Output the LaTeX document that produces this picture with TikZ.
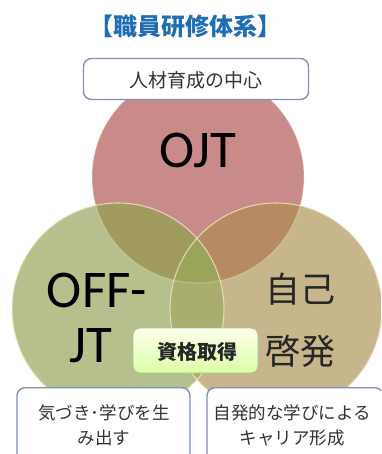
\documentclass[tikz,border=0pt]{standalone}
\usepackage{fontspec}
\setmainfont{Carlito}
\newfontfamily\jp{Noto Sans CJK JP}
\definecolor{cR}{HTML}{C98B89}
\definecolor{cG}{HTML}{B5C08D}
\definecolor{cT}{HTML}{C7B58B}
\definecolor{cRG}{HTML}{A29B5F}
\definecolor{cRT}{HTML}{B68B62}
\definecolor{cGT}{HTML}{A9AE6E}
\definecolor{cRGT}{HTML}{9BA45B}
\definecolor{titleblue}{HTML}{1F6DB5}
\definecolor{boxline}{HTML}{7F91B4}
\definecolor{txt}{HTML}{333333}
\definecolor{edge}{HTML}{F4E8CC}
\tikzset{
  infobox/.style={draw=boxline, line width=1.4pt, rounded corners=8pt, fill=white, inner sep=0pt},
  bigtxt/.style={font=\fontsize{53}{53}\selectfont, text=black, inner sep=0pt},
  bigjp/.style={font=\jp\fontsize{35}{35}\selectfont, text=black!85, inner sep=0pt},
  smalljp/.style={font=\jp\fontsize{17.5}{25}\selectfont, text=txt, align=center, inner sep=0pt},
  rim/.style={draw=edge, line width=1.1pt, draw opacity=0.75}
}
\begin{document}
\begin{tikzpicture}[x=1pt,y=-1pt]
\useasboundingbox (0,0) rectangle (381,454);
\clip (0,0) rectangle (381,454);
\coordinate (cr) at (198,177);
\coordinate (cg) at (118,309);
\coordinate (ct) at (276,309);
% base circles
\fill[cR] (cr) circle[radius=106pt];
\fill[cG] (cg) circle[radius=106pt];
\fill[cT] (ct) circle[radius=106pt];
% pairwise overlaps
\begin{scope}
  \clip (cr) circle[radius=106pt];
  \fill[cRG] (cg) circle[radius=106pt];
  \fill[cRT] (ct) circle[radius=106pt];
\end{scope}
\begin{scope}
  \clip (cg) circle[radius=106pt];
  \fill[cGT] (ct) circle[radius=106pt];
  \clip (ct) circle[radius=106pt];
  \fill[cRGT] (cr) circle[radius=106pt];
\end{scope}
% rims
\draw[rim, draw opacity=0.35] (cr) circle[radius=106pt];
\draw[rim] (cg) circle[radius=106pt];
\draw[rim] (ct) circle[radius=106pt];
% title
\node[font=\jp\bfseries\fontsize{24}{24}\selectfont, text=titleblue, inner sep=0pt] (title) at (185,26) {【職員研修体系】};
% top box
\node[infobox, minimum width=225pt, minimum height=41pt] (topbox) at (196,79) {};
\node[font=\jp\fontsize{19}{19}\selectfont, text=txt, inner sep=0pt] (toptxt) at (196,80) {人材育成の中心};
% big labels
\node[bigtxt] (ojt) at (198,150) {OJT};
\node[bigtxt] (off) at (97,290) {OFF-};
\node[bigtxt] (jt) at (91,345.5) {JT};
\node[bigjp] (jiko) at (300,289) {自己};
\node[bigjp] (keihatsu) at (300,351) {啓発};
% qualification box
\node[draw=black!20!green!25!gray!60, line width=0.8pt, rounded corners=7pt,
      top color=green!8!yellow!8!white, bottom color=green!40!yellow!35!white,
      minimum width=125pt, minimum height=45pt, inner sep=0pt] (shikaku) at (195.5,350.5) {};
\node[font=\jp\bfseries\fontsize{20}{20}\selectfont, text=black!85, inner sep=0pt] (shikakutxt) at (197,352) {資格取得};
% bottom boxes
\node[infobox, minimum width=173pt, minimum height=90pt, anchor=north] (lbox) at (103.5,387) {};
\node[infobox, minimum width=176pt, minimum height=90pt, anchor=north] (rbox) at (295,387) {};
\node[smalljp] (ltxt) at (104,425) {気づき･学びを生\\み出す};
\node[smalljp] (rtxt) at (292,425) {自発的な学びによる\\キャリア形成};
\end{tikzpicture}
\end{document}
